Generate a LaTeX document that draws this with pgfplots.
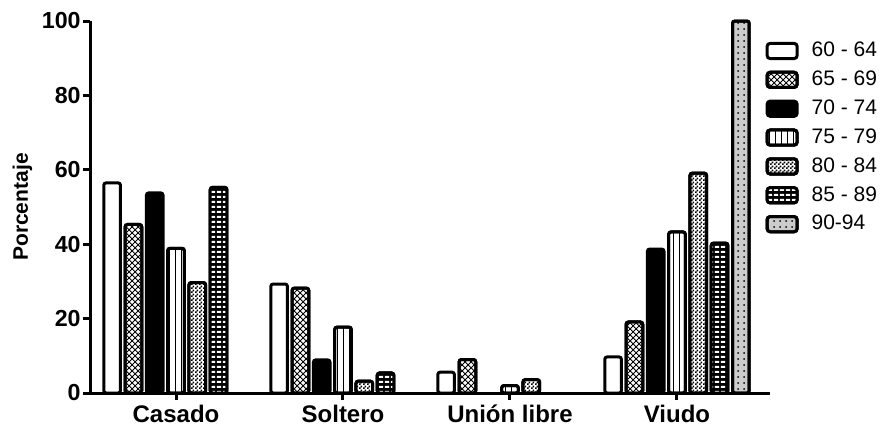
\documentclass[border=0pt]{standalone}
\usepackage{fontspec}
\setmainfont{Liberation Sans}
\usepackage{pgfplots}
\pgfplotsset{compat=1.18}
\usetikzlibrary{patterns}

\pgfdeclarepatternformonly{wbricks}{\pgfqpoint{0pt}{0pt}}{\pgfqpoint{3.2pt}{2.6pt}}{\pgfqpoint{3.2pt}{2.6pt}}{%
  \pgfpathrectangle{\pgfqpoint{0.45pt}{0.65pt}}{\pgfqpoint{2.3pt}{1.2pt}}\pgfusepath{fill}}
\pgfdeclarepatternformonly{finechecker}{\pgfqpoint{0pt}{0pt}}{\pgfqpoint{1.8pt}{1.8pt}}{\pgfqpoint{1.8pt}{1.8pt}}{%
  \pgfpathrectangle{\pgfqpoint{0pt}{0pt}}{\pgfqpoint{0.9pt}{0.9pt}}%
  \pgfpathrectangle{\pgfqpoint{0.9pt}{0.9pt}}{\pgfqpoint{0.9pt}{0.9pt}}\pgfusepath{fill}}

\pgfplotstableread{
x y
0 56.5
1 29.3
2 5.6
3 9.7
}\tA
\pgfplotstableread{
x y
0 45.3
1 28.2
2 9.0
3 19.1
}\tB
\pgfplotstableread{
x y
0 53.8
1 8.9
3 38.7
}\tC
\pgfplotstableread{
x y
0 38.9
1 17.7
2 2.0
3 43.3
}\tD
\pgfplotstableread{
x y
0 29.7
1 3.2
2 3.6
3 59.1
}\tE
\pgfplotstableread{
x y
0 55.3
1 5.4
3 40.3
}\tF
\pgfplotstableread{
x y
3 100
}\tG

\begin{document}
\begin{tikzpicture}
\begin{axis}[
  scale only axis,
  width=340pt, height=186pt,
  ybar,
  bar width=0.1,
  xmin=-0.515, xmax=3.557,
  ymin=0, ymax=100,
  ytick={0,20,40,60,80,100},
  xtick={0,1,2,3},
  xticklabels={Casado, Soltero, Unión libre, Viudo},
  axis lines=left,
  axis line style={line width=1.5pt, -},
  tick align=outside,
  major tick length=3.5pt,
  tick style={line width=1.5pt, black},
  /pgf/number format/assume math mode=true,
  yticklabel style={inner sep=1pt, font=\bfseries\fontsize{11.6}{13}\selectfont},
  xticklabel style={inner sep=2.2pt, font=\bfseries\fontsize{12}{14}\selectfont},
  ylabel={Porcentaje},
  every axis y label/.style={at={([xshift=-31pt]axis description cs:0,0.5)}, rotate=90, anchor=base, font=\bfseries\fontsize{10.5}{12}\selectfont},
  clip=false,
  every axis plot/.append style={draw=black, line width=1.5pt, rounded corners=1.2pt},
  legend image code/.code={\draw[#1, line width=1.5pt, rounded corners=1.5pt] (0pt,-3.8pt) rectangle (15pt,3.8pt);},
  legend cell align=left,
  legend style={draw=none, fill=none, at={(0.993,0.955)}, anchor=north west,
    font=\fontsize{10.5}{12}\selectfont, row sep=1.6pt, inner sep=0pt,
    /tikz/every odd column/.append style={column sep=4.5pt}},
]
\addplot[fill=white, bar shift=-0.3825] table {\tA};
\addplot[fill=white, postaction={pattern=crosshatch, pattern color=black}, bar shift=-0.255] table {\tB};
\addplot[fill=black, bar shift=-0.1275] table {\tC};
\addplot[fill=white, postaction={pattern=vertical lines, pattern color=black}, bar shift=0] table {\tD};
\addplot[fill=white, postaction={pattern=finechecker, pattern color=black}, bar shift=0.1275] table {\tE};
\addplot[fill=black, postaction={pattern=wbricks, pattern color=white}, bar shift=0.255] table {\tF};
\addplot[fill=black!20, postaction={pattern=dots, pattern color=black}, bar shift=0.3825] table {\tG};
\legend{60 - 64, 65 - 69, 70 - 74, 75 - 79, 80 - 84, 85 - 89, 90-94}
\end{axis}
\pgfresetboundingbox
\path ([xshift=-45pt,yshift=-16pt]current axis.south west) rectangle ([xshift=56.5pt,yshift=10.5pt]current axis.north east);
\end{tikzpicture}
\end{document}
